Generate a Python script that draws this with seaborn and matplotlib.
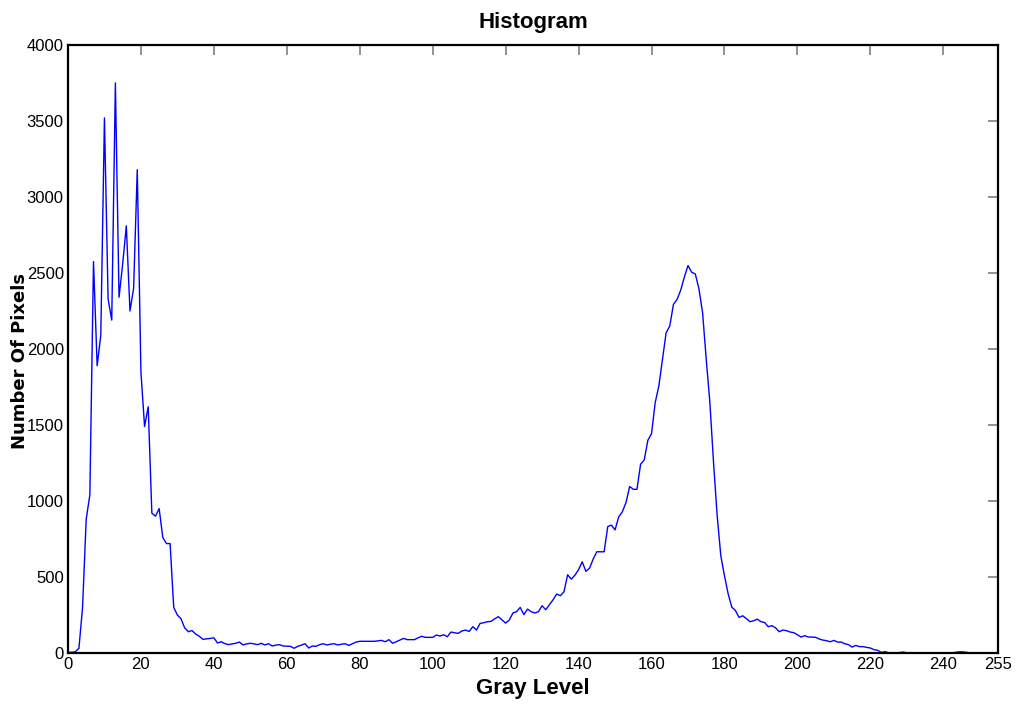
import matplotlib
matplotlib.use('Agg')
import matplotlib.pyplot as plt
import seaborn as sns
import numpy as np
import pandas as pd

# gray level histogram counts (levels 0..255)
counts_dark = [5, 5, 8, 30, 300, 880, 1040, 2575, 1890, 2090,
               3520, 2330, 2190, 3750, 2340, 2560, 2810, 2250, 2400, 3180,
               1850, 1490, 1620, 920, 900, 950, 760, 720, 720, 300,
               250, 225, 165, 140, 148, 125, 110, 90, 93, 96]
counts_mid = [100, 66, 74, 62, 55, 60, 64, 72, 53, 60,
              64, 60, 55, 64, 53, 61, 46, 52, 55, 46,
              45, 44, 31, 44, 52, 61, 33, 46, 44, 55,
              61, 53, 58, 61, 53, 58, 61, 50, 61, 72,
              77, 77, 77, 77, 77, 80, 83, 74, 88, 64,
              74, 85, 96, 88, 88, 88, 100, 110, 103, 103,
              103, 118, 112, 120, 107, 138, 133, 129, 145, 151,
              142, 173, 151, 195, 199, 206, 208, 225, 239, 218]
counts_bright = [197, 217, 263, 272, 300, 252, 289, 272, 263, 272,
                 311, 285, 318, 350, 388, 377, 403, 515, 486, 512,
                 548, 600, 537, 558, 618, 666, 666, 666, 832, 841,
                 810, 896, 929, 990, 1095, 1077, 1077, 1242, 1270, 1400,
                 1443, 1647, 1756, 1932, 2107, 2151, 2293, 2326, 2387, 2473,
                 2549, 2505, 2494, 2396, 2238, 1932, 1647, 1253, 902, 639]
counts_tail = [508, 390, 302, 280, 234, 245, 226, 206, 212, 223,
               206, 201, 173, 180, 166, 140, 151, 147, 138, 134,
               120, 105, 114, 105, 105, 103, 92, 85, 81, 74,
               83, 72, 72, 61, 55, 39, 50, 42, 42, 37,
               33, 22, 18, 4, 9, 2, 1, 1, 3, 6,
               2, 1, 1, 1, 1, 1, 1, 1, 1, 1,
               1, 1, 1, 3, 7, 8, 6, 2, 1, 1,
               1, 1, 1, 1, 1, 1]

counts = counts_dark + counts_mid + counts_bright + counts_tail
levels = np.arange(len(counts))
x_ticks = [0, 20, 40, 60, 80, 100, 120, 140, 160, 180, 200, 220, 240, 255]
y_ticks = [0, 500, 1000, 1500, 2000, 2500, 3000, 3500, 4000]

df = pd.DataFrame({'level': levels, 'count': counts})

sns.set_style('white')
plt.rcParams['font.family'] = ['Liberation Sans Narrow', 'Liberation Sans', 'DejaVu Sans']
plt.rcParams['text.color'] = 'black'

fig = plt.figure(figsize=(10.16, 7.23), dpi=100)
ax = fig.add_axes([0.0669, 0.0968, 0.9154, 0.841])

sns.lineplot(data=df, x='level', y='count', ax=ax, color='#0000ff', linewidth=1.0)

ax.set_xlim(0, 255)
ax.set_ylim(0, 4000)
ax.set_xticks(x_ticks)
ax.set_yticks(y_ticks)
ax.tick_params(direction='in', length=7, width=1.2, color='#808080',
               labelcolor='black', top=True, right=True, labelsize=12, pad=3)
for side in ax.spines.values():
    side.set_color('black')
    side.set_linewidth(1.6)

ax.set_title('Histogram', fontsize=16, fontweight='bold', pad=12, color='black')
ax.set_xlabel('Gray Level', fontsize=16, fontweight='bold', labelpad=4, color='black')
ax.set_ylabel('Number Of Pixels', fontsize=13, fontweight='bold',
              family='DejaVu Sans', color='black')
ax.yaxis.set_label_coords(-0.042, 0.48)

plt.savefig('out.png', dpi=100)
